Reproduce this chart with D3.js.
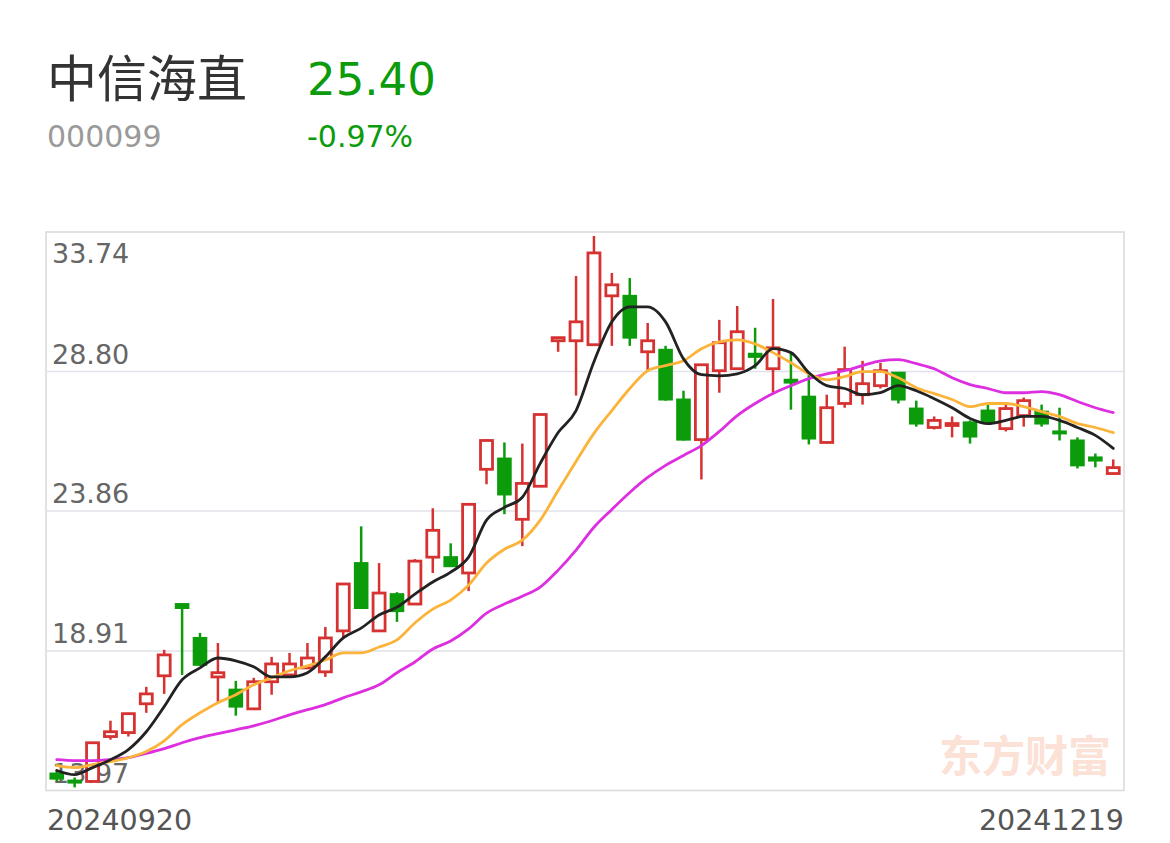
<!DOCTYPE html>
<html>
<head>
<meta charset="utf-8">
<script src="https://cdn.jsdelivr.net/npm/d3@7"></script>
<style>
  html, body { margin: 0; padding: 0; background: #ffffff; }
  svg { display: block; }
</style>
</head>
<body>
<svg id="chart" width="1170" height="843"></svg>
<script>
// ---------------- data ----------------
const stockName = "中信海直";
const stockCode = "000099";
const lastPrice = "25.40";
const changePct = "-0.97%";
const watermark = "东方财富";

const dates = [
  "20240920","20240923","20240924","20240925","20240926","20240927","20240930",
  "20241008","20241009","20241010","20241011","20241014","20241015","20241016","20241017","20241018",
  "20241021","20241022","20241023","20241024","20241025","20241028","20241029","20241030","20241031",
  "20241101","20241104","20241105","20241106","20241107","20241108","20241111","20241112","20241113",
  "20241114","20241115","20241118","20241119","20241120","20241121","20241122","20241125","20241126",
  "20241127","20241128","20241129","20241202","20241203","20241204","20241205","20241206","20241209",
  "20241210","20241211","20241212","20241213","20241216","20241217","20241218","20241219"
];

const open = [14.57,14.32,14.29,15.88,16.02,17.04,18.03,20.57,19.37,17.99,
              17.54,16.86,17.82,18.06,18.31,18.17,19.62,22.02,19.62,20.92,
              20.57,22.23,22.23,21.67,25.34,25.72,23.57,24.74,29.89,29.89,
              29.75,31.48,31.48,29.50,29.57,27.81,26.39,28.83,28.90,29.43,
              28.90,28.51,27.91,26.29,27.67,27.98,28.30,28.76,27.49,26.82,
              26.89,27.00,27.42,26.78,27.24,27.38,26.68,26.36,25.76,25.19];
const high = [14.68,14.43,15.66,16.44,16.72,17.64,18.95,20.57,19.55,19.19,
              17.85,17.96,18.70,18.84,19.19,19.76,21.30,23.32,22.02,20.99,
              22.16,23.96,22.72,24.10,26.40,26.29,26.25,27.28,30.00,32.18,
              33.60,32.29,32.11,30.52,29.71,28.12,29.04,30.63,31.12,30.35,
              31.37,29.43,28.72,27.98,29.68,29.18,29.11,28.76,27.77,27.21,
              27.21,27.07,27.70,27.70,27.88,27.63,27.52,26.47,25.90,25.69];
const low = [14.29,14.08,14.29,15.77,15.88,16.72,17.39,18.06,18.38,17.11,
             16.62,16.86,17.36,17.99,18.28,17.99,19.37,20.40,19.62,19.94,
             20.57,21.67,21.91,21.03,24.81,23.75,22.62,24.74,29.50,27.95,
             29.71,29.71,29.71,28.83,27.77,26.36,24.98,28.05,28.90,28.90,
             28.05,27.45,26.22,26.25,27.52,27.63,28.20,27.67,26.85,26.75,
             26.47,26.25,26.96,26.68,26.85,26.85,26.36,25.37,25.41,25.19];
const close = [14.39,14.25,15.66,16.05,16.69,17.39,18.77,20.43,18.42,18.14,
               16.94,17.82,18.45,18.45,18.66,19.37,21.28,20.43,20.96,20.32,
               22.09,23.18,21.91,24.10,26.36,24.45,24.84,27.28,30.00,30.56,
               33.00,31.87,30.00,29.89,27.81,26.39,29.04,29.82,30.21,29.32,
               29.64,28.41,26.43,27.52,28.87,28.37,28.83,27.81,26.96,27.07,
               26.96,26.50,27.03,27.49,27.77,26.96,26.61,25.48,25.65,25.40];

const ma5 = [14.68,14.53,14.78,15.06,15.42,16.05,16.94,17.89,18.31,18.66,
             18.56,18.35,17.99,17.99,18.14,18.70,19.37,19.72,20.18,20.46,
             20.92,21.35,21.70,22.23,23.54,23.99,24.35,25.55,26.64,27.42,
             29.15,30.56,31.09,31.09,30.56,29.25,28.69,28.65,28.72,29.01,
             29.61,29.47,28.76,28.30,28.20,27.98,28.05,28.30,28.12,27.84,
             27.52,27.14,26.96,27.07,27.21,27.21,27.07,26.82,26.54,26.08];
const ma10 = [14.85,14.78,14.89,14.99,15.13,15.35,15.73,16.30,16.72,17.08,
              17.36,17.71,17.96,18.21,18.38,18.59,18.84,18.84,19.05,19.30,
              19.90,20.39,20.71,21.24,22.02,22.51,22.83,23.54,24.59,25.62,
              26.61,27.42,28.20,28.83,29.01,29.18,29.61,29.85,29.92,29.78,
              29.47,29.11,28.72,28.51,28.62,28.80,28.80,28.58,28.23,28.02,
              27.81,27.56,27.67,27.67,27.56,27.38,27.21,26.96,26.82,26.64];
const ma20 = [15.06,15.03,15.03,15.06,15.13,15.28,15.45,15.66,15.84,15.98,
              16.12,16.26,16.44,16.65,16.83,17.01,17.25,17.46,17.71,18.14,
              18.52,18.98,19.26,19.69,20.25,20.57,20.85,21.17,21.77,22.48,
              23.29,23.92,24.52,25.05,25.48,25.83,26.18,26.68,27.24,27.67,
              28.02,28.30,28.55,28.72,28.83,29.01,29.18,29.22,29.08,28.90,
              28.58,28.34,28.20,28.05,28.05,28.09,27.98,27.74,27.52,27.35];

const yTicks = [33.74, 28.80, 23.86, 18.91, 13.97];
const xTickLabels = ["20240920", "20241219"];

// ---------------- layout ----------------
const plot = { left: 46, right: 1124, top: 232, bottom: 790.5 };
const RED = "#d63232", GREEN = "#0b9b0b";
const numFont = "'DejaVu Sans', sans-serif";
const cjkFont = "'Noto Sans CJK SC', sans-serif";

const svg = d3.select("#chart");

const x = d3.scaleBand().domain(dates).range([plot.left, plot.right]).padding(0.2);
const y = d3.scaleLinear().domain([yTicks[yTicks.length - 1], yTicks[0]]).range([plot.bottom, plot.top]);
const cx = d => x(d) + x.bandwidth() / 2;

// header
svg.append("text").attr("x", 47).attr("y", 97)
  .attr("font-family", cjkFont).attr("font-size", 50).attr("fill", "#333")
  .text(stockName);
svg.append("text").attr("x", 307).attr("y", 95)
  .attr("font-family", numFont).attr("font-size", 45).attr("fill", GREEN)
  .text(lastPrice);
svg.append("text").attr("x", 47).attr("y", 147)
  .attr("font-family", numFont).attr("font-size", 30).attr("fill", "#9a9a9a")
  .text(stockCode);
svg.append("text").attr("x", 307).attr("y", 147)
  .attr("font-family", numFont).attr("font-size", 30).attr("fill", GREEN)
  .text(changePct);

// frame
svg.append("rect").attr("x", plot.left).attr("y", plot.top)
  .attr("width", plot.right - plot.left).attr("height", plot.bottom - plot.top)
  .attr("fill", "none").attr("stroke", "#d9d9de").attr("stroke-width", 1.5);

// grid lines
svg.append("g").selectAll("line").data(yTicks.slice(1, -1)).join("line")
  .attr("x1", plot.left).attr("x2", plot.right)
  .attr("y1", d => y(d)).attr("y2", d => y(d))
  .attr("stroke", "#e1e1ea").attr("stroke-width", 1.5);

// y labels
svg.append("g").selectAll("text").data(yTicks).join("text")
  .attr("x", 52)
  .attr("y", (d, i) => i === 0 ? y(d) + 31 : y(d) - 8)
  .attr("font-family", numFont).attr("font-size", 27).attr("fill", "#666")
  .text(d => d.toFixed(2));

// x labels
svg.append("text").attr("x", plot.left + 1).attr("y", 830)
  .attr("font-family", numFont).attr("font-size", 28.5).attr("fill", "#555")
  .text(xTickLabels[0]);
svg.append("text").attr("x", plot.right).attr("y", 830).attr("text-anchor", "end")
  .attr("font-family", numFont).attr("font-size", 28.5).attr("fill", "#555")
  .text(xTickLabels[1]);

// watermark
svg.append("text").attr("x", 1111).attr("y", 772).attr("text-anchor", "end")
  .attr("font-family", cjkFont).attr("font-weight", 700).attr("font-size", 43)
  .attr("fill", "#fbe1d6")
  .text(watermark);

// candles
const candles = dates.map((d, i) => ({ d, o: open[i], h: high[i], l: low[i], c: close[i] }));
const cg = svg.append("g");
const bodyW = 12;
cg.selectAll("line.wick").data(candles).join("line")
  .attr("class", "wick")
  .attr("x1", d => cx(d.d)).attr("x2", d => cx(d.d))
  .attr("y1", d => y(d.h)).attr("y2", d => y(d.l))
  .attr("stroke", d => d.c >= d.o ? RED : GREEN).attr("stroke-width", 2.5);
cg.selectAll("rect.up").data(candles.filter(d => d.c >= d.o)).join("rect")
  .attr("class", "up")
  .attr("x", d => cx(d.d) - bodyW / 2).attr("width", bodyW)
  .attr("y", d => y(d.c)).attr("height", d => Math.max(1, y(d.o) - y(d.c)))
  .attr("fill", "#fff").attr("stroke", RED).attr("stroke-width", 2.8);
cg.selectAll("rect.down").data(candles.filter(d => d.c < d.o)).join("rect")
  .attr("class", "down")
  .attr("x", d => cx(d.d) - (bodyW + 2.6) / 2).attr("width", bodyW + 2.6)
  .attr("y", d => y(d.o) - 1).attr("height", d => Math.max(2.8, y(d.c) - y(d.o) + 2))
  .attr("fill", GREEN);

// moving averages
const line = arr => d3.line()
  .x((v, i) => cx(dates[i]))
  .y(v => y(v))
  .curve(d3.curveMonotoneX)(arr);
[[ma20, "#dd2ee0"], [ma10, "#fbb33a"], [ma5, "#222"]].forEach(([arr, col]) => {
  svg.append("path").attr("d", line(arr))
    .attr("fill", "none").attr("stroke", col).attr("stroke-width", 2.8)
    .attr("stroke-linejoin", "round").attr("stroke-linecap", "round");
});
</script>
</body>
</html>
